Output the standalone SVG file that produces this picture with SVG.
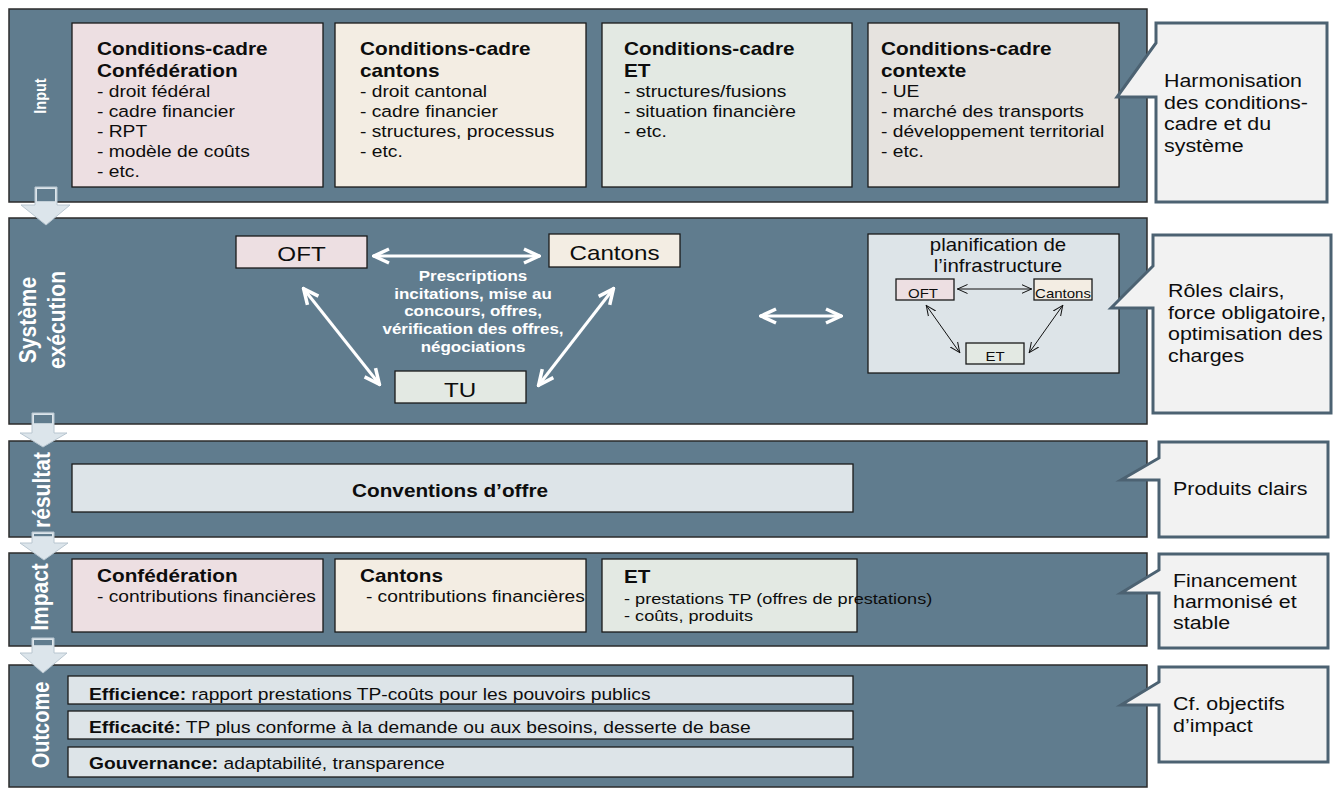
<svg xmlns="http://www.w3.org/2000/svg" width="1334" height="788" viewBox="0 0 1334 788">
<defs>
<style>
text{font-family:"Liberation Sans",Arial,sans-serif;fill:#0d0d0d}
.band{fill:#607c8e;stroke:#2b2b2b;stroke-width:1.5}
.box{stroke:#1a1a1a;stroke-width:1.3}
.pink{fill:#eddfe2}.cream{fill:#f3ede3}.green{fill:#e3e9e3}.grey{fill:#e6e3df}.blue{fill:#dde4e8}
.call{fill:#f2f2f2;stroke:#4c6272;stroke-width:3;stroke-linejoin:miter}
.darr{fill:#dce5eb;stroke:#b8c6d0;stroke-width:1}
.cov{fill:#607c8e}
.lbl{fill:#fff;font-weight:bold}
.t{font-weight:bold;font-size:17.6px}
.r{font-size:16.3px}
.c{font-size:18.3px}
.mid{fill:#fff;font-weight:bold;font-size:14.4px}
.nd{font-size:20.5px}
.mini{font-size:12.5px}
.wl{stroke:#fff;stroke-width:3;fill:none;marker-start:url(#wa);marker-end:url(#wa)}
.bl{stroke:#111;stroke-width:1;fill:none;marker-start:url(#ba);marker-end:url(#ba)}
</style>
<marker id="wa" viewBox="0 -9 19 18" refX="18" refY="0" markerWidth="19" markerHeight="18" markerUnits="userSpaceOnUse" orient="auto-start-reverse">
<path d="M2,-7 L17,0 L2,7" fill="none" stroke="#fff" stroke-width="3.5"/>
</marker>
<marker id="ba" viewBox="0 -6 11 12" refX="10.5" refY="0" markerWidth="11" markerHeight="12" markerUnits="userSpaceOnUse" orient="auto-start-reverse">
<path d="M0,-4.5 L10,0 L0,4.5" fill="none" stroke="#111" stroke-width="1"/>
</marker>
</defs>
<rect width="1334" height="788" fill="#fff"/>

<!-- bands -->
<g id="band-input">
<rect class="band" x="9" y="9" width="1138" height="193"/>
<text class="lbl" font-size="14.5" text-anchor="middle" transform="translate(46,96) rotate(-90) scale(1,1.18)">Input</text>
</g>
<g id="band-systeme">
<rect class="band" x="9" y="218" width="1138" height="206"/>
<text class="lbl" font-size="21" text-anchor="middle" transform="translate(36,320) rotate(-90) scale(1,1.18)">Système</text>
<text class="lbl" font-size="21" text-anchor="middle" transform="translate(65,320) rotate(-90) scale(1,1.18)">exécution</text>
</g>
<g id="band-resultat">
<rect class="band" x="9" y="441" width="1138" height="96"/>
<text class="lbl" font-size="21" text-anchor="middle" transform="translate(50,490) rotate(-90) scale(1,1.18)">résultat</text>
</g>
<g id="band-impact">
<rect class="band" x="9" y="553" width="1138" height="93"/>
<text class="lbl" font-size="21" text-anchor="middle" transform="translate(48,597) rotate(-90) scale(1,1.18)">Impact</text>
</g>
<g id="band-outcome">
<rect class="band" x="9" y="665" width="1138" height="122"/>
<text class="lbl" font-size="20" text-anchor="middle" transform="translate(49,725) rotate(-90) scale(1,1.18)">Outcome</text>
</g>

<!-- down block arrows -->
<g id="down-arrows">
<path class="darr" d="M35,187 H57 V205 H70 L46,225 L21,205 H35 Z"/>
<rect class="cov" x="37" y="189" width="18" height="12.2"/>
<path class="darr" d="M32,413 H54 V433 H67 L43,447 L20,433 H32 Z"/>
<rect class="cov" x="34" y="415" width="18" height="8.2"/>
<path class="darr" d="M32,532 H54 V543 H68 L44,560 L20,543 H32 Z"/>
<rect class="cov" x="34" y="534" width="18" height="2.2"/>
<path class="darr" d="M32,638 H54 V653 H67 L43,673 L20,653 H32 Z"/>
<rect class="cov" x="34" y="640" width="18" height="5.2"/>
</g>

<!-- Input boxes -->
<g id="in-confederation">
<rect class="box pink" x="72" y="23" width="251" height="164"/>
<text transform="matrix(1.18 0 0 1 97 55)"><tspan class="t" x="0">Conditions-cadre</tspan><tspan class="t" x="0" dy="22">Confédération</tspan><tspan class="r" x="0" dy="20">- droit fédéral</tspan><tspan class="r" x="0" dy="20">- cadre financier</tspan><tspan class="r" x="0" dy="20">- RPT</tspan><tspan class="r" x="0" dy="20">- modèle de coûts</tspan><tspan class="r" x="0" dy="20">- etc.</tspan></text>
</g>
<g id="in-cantons">
<rect class="box cream" x="335" y="23" width="251" height="164"/>
<text transform="matrix(1.18 0 0 1 360 55)"><tspan class="t" x="0">Conditions-cadre</tspan><tspan class="t" x="0" dy="22">cantons</tspan><tspan class="r" x="0" dy="20">- droit cantonal</tspan><tspan class="r" x="0" dy="20">- cadre financier</tspan><tspan class="r" x="0" dy="20">- structures, processus</tspan><tspan class="r" x="0" dy="20">- etc.</tspan></text>
</g>
<g id="in-et">
<rect class="box green" x="602" y="23" width="250" height="164"/>
<text transform="matrix(1.18 0 0 1 624 55)"><tspan class="t" x="0">Conditions-cadre</tspan><tspan class="t" x="0" dy="22">ET</tspan><tspan class="r" x="0" dy="20">- structures/fusions</tspan><tspan class="r" x="0" dy="20">- situation financière</tspan><tspan class="r" x="0" dy="20">- etc.</tspan></text>
</g>
<g id="in-contexte">
<rect class="box grey" x="868" y="23" width="251" height="164"/>
<text transform="matrix(1.18 0 0 1 881 55)"><tspan class="t" x="0">Conditions-cadre</tspan><tspan class="t" x="0" dy="22">contexte</tspan><tspan class="r" x="0" dy="20">- UE</tspan><tspan class="r" x="0" dy="20">- marché des transports</tspan><tspan class="r" x="0" dy="20">- développement territorial</tspan><tspan class="r" x="0" dy="20">- etc.</tspan></text>
</g>

<!-- Système nodes -->
<g id="node-oft">
<rect class="box pink" x="236" y="236" width="131" height="32"/>
<text class="nd" text-anchor="middle" transform="matrix(1.18 0 0 1 301.5 261)">OFT</text>
</g>
<g id="node-cantons">
<rect class="box cream" x="549" y="234" width="131" height="33"/>
<text class="nd" text-anchor="middle" transform="matrix(1.18 0 0 1 614.5 260)">Cantons</text>
</g>
<g id="node-tu">
<rect class="box green" x="395" y="371" width="131" height="32"/>
<text class="nd" text-anchor="middle" transform="matrix(1.18 0 0 1 460 397)">TU</text>
</g>
<g id="label-prescriptions">
<text class="mid" text-anchor="middle" transform="matrix(1.18 0 0 1 473 281)"><tspan x="0">Prescriptions</tspan><tspan x="0" dy="17.7">incitations, mise au</tspan><tspan x="0" dy="17.7">concours, offres,</tspan><tspan x="0" dy="17.7">vérification des offres,</tspan><tspan x="0" dy="17.7">négociations</tspan></text>
</g>
<g id="node-planification">
<rect class="box blue" x="868" y="234" width="251" height="139"/>
<text class="c" text-anchor="middle" font-size="17.5" transform="matrix(1.17 0 0 1 998 251)"><tspan x="0" style="font-size:17.5px">planification de</tspan><tspan x="0" dy="21.5" style="font-size:17.5px">l’infrastructure</tspan></text>
<g id="mini-oft">
<rect class="box pink" x="896" y="279" width="58" height="21" stroke-width="1.2"/>
<text class="mini" text-anchor="middle" transform="matrix(1.2 0 0 1 923 298)">OFT</text>
</g>
<g id="mini-cantons">
<rect class="box cream" x="1034" y="279" width="58" height="21" stroke-width="1.2"/>
<text class="mini" text-anchor="middle" transform="matrix(1.2 0 0 1 1063 298)">Cantons</text>
</g>
<g id="mini-et">
<rect class="box green" x="966" y="343" width="58" height="21" stroke-width="1.2"/>
<text class="mini" text-anchor="middle" transform="matrix(1.2 0 0 1 995 361)">ET</text>
</g>
</g>

<!-- connectors -->
<g id="connectors">
<line class="wl" x1="373" y1="256" x2="540" y2="256"/>
<line class="wl" x1="303" y1="288" x2="380" y2="385"/>
<line class="wl" x1="614" y1="288" x2="538" y2="386"/>
<line class="wl" x1="760" y1="316" x2="842" y2="316"/>
<line class="bl" x1="957" y1="289" x2="1032" y2="289"/>
<line class="bl" x1="926" y1="305" x2="960" y2="353"/>
<line class="bl" x1="1063" y1="305" x2="1029" y2="353"/>
</g>

<!-- résultat -->
<g id="res-conventions">
<rect class="box blue" x="72" y="464" width="781" height="48"/>
<text class="t" text-anchor="middle" transform="matrix(1.18 0 0 1 450 497)">Conventions d’offre</text>
</g>

<!-- Impact -->
<g id="imp-confederation">
<rect class="box pink" x="72" y="559" width="251" height="73"/>
<text transform="matrix(1.18 0 0 1 97 582)"><tspan class="t" x="0">Confédération</tspan><tspan class="r" x="0" dy="20">- contributions financières</tspan></text>
</g>
<g id="imp-cantons">
<rect class="box cream" x="335" y="559" width="251" height="73"/>
<text transform="matrix(1.18 0 0 1 360 582)"><tspan class="t" x="0">Cantons</tspan><tspan class="r" x="5" dy="20">- contributions financières</tspan></text>
</g>
<g id="imp-et">
<rect class="box green" x="602" y="559" width="255" height="73"/>
<text transform="matrix(1.17 0 0 1 624 583)"><tspan class="t" x="0">ET</tspan><tspan x="0" dy="21" style="font-size:15.5px">- prestations TP (offres de prestations)</tspan><tspan x="0" dy="17" style="font-size:15.5px">- coûts, produits</tspan></text>
</g>

<!-- Outcome -->
<g id="out-efficience">
<rect class="box blue" x="68" y="676" width="785" height="28"/>
<text style="font-size:16.3px" transform="matrix(1.18 0 0 1 89 700)"><tspan font-weight="bold">Efficience:</tspan> rapport prestations TP-coûts pour les pouvoirs publics</text>
</g>
<g id="out-efficacite">
<rect class="box blue" x="68" y="711" width="785" height="28"/>
<text style="font-size:16.3px" transform="matrix(1.18 0 0 1 89 733)"><tspan font-weight="bold">Efficacité:</tspan> TP plus conforme à la demande ou aux besoins, desserte de base</text>
</g>
<g id="out-gouvernance">
<rect class="box blue" x="68" y="747" width="785" height="30"/>
<text style="font-size:16.3px" transform="matrix(1.18 0 0 1 89 769)"><tspan font-weight="bold">Gouvernance:</tspan> adaptabilité, transparence</text>
</g>

<!-- callouts -->
<g id="callout-1">
<path class="call" d="M1156,23 H1327 V202 H1156 V97 L1117,97 L1156,43 Z"/>
<text class="c" transform="matrix(1.17 0 0 1 1164 87)"><tspan x="0">Harmonisation</tspan><tspan x="0" dy="21.7">des conditions-</tspan><tspan x="0" dy="21.7">cadre et du</tspan><tspan x="0" dy="21.7">système</tspan></text>
</g>
<g id="callout-2">
<path class="call" d="M1153,235 H1331 V413 H1153 V308 L1111,308 L1153,266 Z"/>
<text class="c" transform="matrix(1.17 0 0 1 1168 297)"><tspan x="0">Rôles clairs,</tspan><tspan x="0" dy="21.7">force obligatoire,</tspan><tspan x="0" dy="21.7">optimisation des</tspan><tspan x="0" dy="21.7">charges</tspan></text>
</g>
<g id="callout-3">
<path class="call" d="M1159,442 H1328 V537 H1159 V480 L1121,480 L1159,458 Z"/>
<text class="c" transform="matrix(1.17 0 0 1 1173 495)">Produits clairs</text>
</g>
<g id="callout-4">
<path class="call" d="M1159,554 H1328 V648 H1159 V593 L1121,593 L1159,570 Z"/>
<text class="c" transform="matrix(1.17 0 0 1 1173 587)"><tspan x="0">Financement</tspan><tspan x="0" dy="21">harmonisé et</tspan><tspan x="0" dy="21">stable</tspan></text>
</g>
<g id="callout-5">
<path class="call" d="M1159,667 H1328 V762 H1159 V705 L1121,705 L1159,682 Z"/>
<text class="c" transform="matrix(1.17 0 0 1 1173 710)"><tspan x="0">Cf. objectifs</tspan><tspan x="0" dy="22">d’impact</tspan></text>
</g>
</svg>
